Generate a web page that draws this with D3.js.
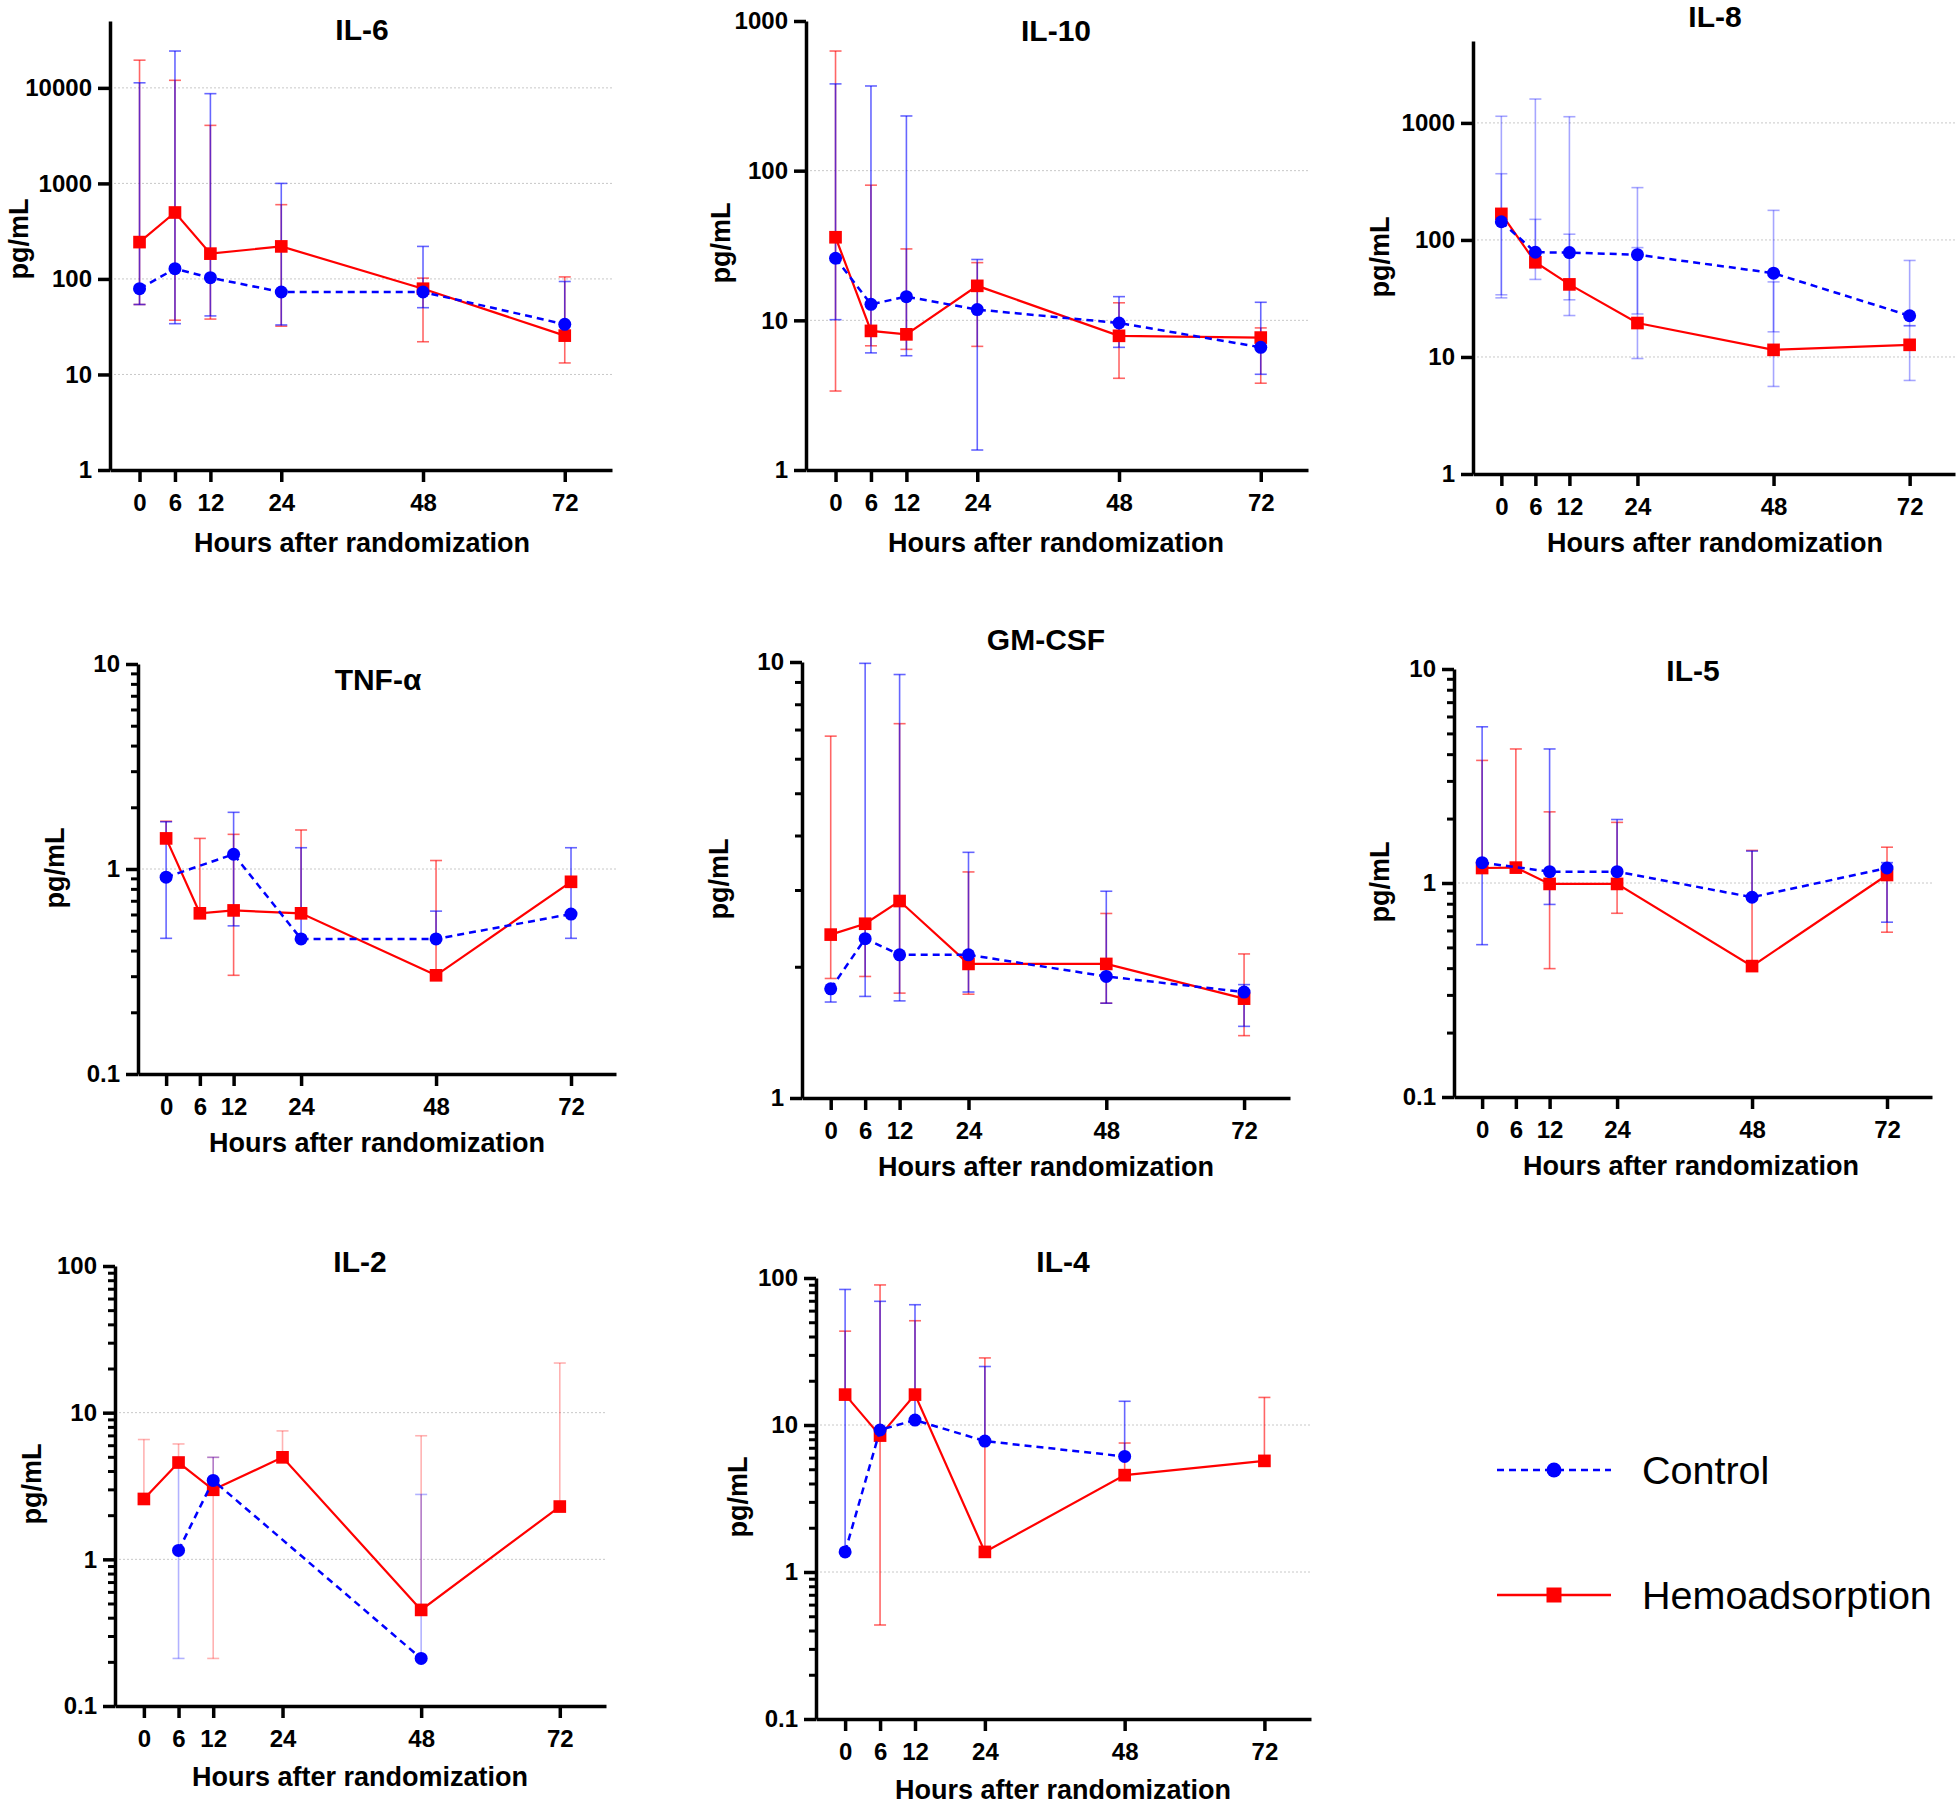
<!DOCTYPE html>
<html>
<head>
<meta charset="utf-8">
<script src="https://cdn.jsdelivr.net/npm/d3@7"></script>
<style>
  body { margin: 0; background: #fff; }
  svg text { font-family: "Liberation Sans", Arial, sans-serif; fill: #000; }
</style>
</head>
<body>
<svg id="chart" width="1960" height="1804"></svg>
<script>
// time points (hours after randomization)
const hours = [0, 6, 12, 24, 48, 72];

// each point: [median, lower, upper] in pg/mL; null = not shown
const il6Control = [[79, 54, 11300], [128, 34, 24300], [103, 41, 8700], [73, 33, 1000], [73, 50, 219], [33.5, 26.6, 94]];
const il6Hemo = [[243, 54, 19500], [496, 37, 12000], [184, 38, 4050], [219, 32, 599], [79, 22, 102], [25.5, 13.2, 105]];

const il10Control = [[26, 10.1, 380], [12.8, 6.06, 368], [14.4, 5.8, 232], [11.8, 1.36, 25.5], [9.6, 6.6, 14.4], [6.6, 4.36, 13.2]];
const il10Hemo = [[35.9, 3.37, 630], [8.5, 6.76, 80], [8.06, 6.4, 30], [17, 6.7, 24.3], [7.88, 4.1, 13.1], [7.67, 3.8, 8.9]];

const il8Control = [[143, 32, 1140], [78.5, 46, 1600], [78, 22.6, 1130], [74.8, 23.3, 280], [52, 16.4, 179], [22.5, 18.5, 66.8]];
const il8Hemo = [[167, 34, 368], [64.5, 58, 150], [41.7, 30.8, 112], [19.5, 9.7, 86], [11.5, 5.6, 43.8], [12.7, 6.3, 18.5]];

const tnfControl = [[0.912, 0.459, 1.70], null, [1.18, 0.528, 1.89], [0.456, null, 1.27], [0.456, null, 0.623], [0.603, 0.459, 1.27]];
const tnfHemo = [[1.41, null, 1.71], [0.608, null, 1.41], [0.628, 0.303, 1.476], [0.608, null, 1.55], [0.303, null, 1.1], [0.866, null, null]];

const gmControl = [[1.78, 1.66, null], [2.32, 1.71, 9.93], [2.13, 1.67, 9.36], [2.13, 1.75, 3.66], [1.90, 1.65, 2.98], [1.75, 1.46, 1.82]];
const gmHemo = [[2.37, 1.88, 6.76], [2.51, 1.90, null], [2.83, 1.74, 7.22], [2.03, 1.73, 3.30], [2.03, 1.65, 2.65], [1.69, 1.39, 2.14]];

const il5Control = [[1.245, 0.515, 5.37], null, [1.13, 0.794, 4.23], [1.13, null, 1.98], [0.858, null, 1.41], [1.175, 0.656, 1.245]];
const il5Hemo = [[1.175, null, 3.74], [1.18, null, 4.23], [0.99, 0.398, 2.15], [0.99, 0.722, 1.92], [0.409, null, 1.42], [1.09, 0.589, 1.47]];

const il2Control = [null, [1.15, 0.211, 4.96], [3.45, null, 4.96], null, [0.211, null, 2.77], null];
const il2Hemo = [[2.58, null, 6.56], [4.57, null, 6.12], [2.98, 0.211, 4.96], [4.96, null, 7.51], [0.452, null, 6.96], [2.29, null, 21.8]];

const il4Control = [[1.37, null, 83.6], [9.25, null, 69.4], [10.8, null, 65.8], [7.77, null, 25], [6.11, null, 14.5], null];
const il4Hemo = [[16.1, null, 43.5], [8.47, 0.436, 89.7], [16.1, null, 51.2], [1.37, null, 28.6], [4.56, null, 7.54], [5.7, null, 15.4]];

const seriesNames = ["Control", "Hemoadsorption"];

// panel layout (pixel boxes + axis extents)
const panels = [
  {title: "IL-6", control: il6Control, hemo: il6Hemo, left: 110, right: 612, top: 21, bottom: 470, yMin: 1, yMax: Math.pow(10, 4.7), minor: false,
   tpos: [362, 29], ypos: [19, 239], xpos: [362, 543]},
  {title: "IL-10", control: il10Control, hemo: il10Hemo, left: 806, right: 1308, top: 21, bottom: 470, yMin: 1, yMax: 1000, minor: false,
   tpos: [1056, 30], ypos: [721, 243], xpos: [1056, 543]},
  {title: "IL-8", control: il8Control, hemo: il8Hemo, left: 1473, right: 1955, top: 41, bottom: 474, yMin: 1, yMax: Math.pow(10, 3.7), minor: false,
   tpos: [1715, 16], ypos: [1380, 257], xpos: [1715, 543], errAlpha: 0.35, hemoErrBlue: true},
  {title: "TNF-α", control: tnfControl, hemo: tnfHemo, left: 138, right: 616, top: 664, bottom: 1074, yMin: 0.1, yMax: 10, minor: true,
   tpos: [378, 679], ypos: [55, 868], xpos: [377, 1143]},
  {title: "GM-CSF", control: gmControl, hemo: gmHemo, left: 802, right: 1290, top: 662, bottom: 1098, yMin: 1, yMax: 10, minor: true,
   tpos: [1046, 639], ypos: [719, 879], xpos: [1046, 1167]},
  {title: "IL-5", control: il5Control, hemo: il5Hemo, left: 1454, right: 1932, top: 669, bottom: 1097, yMin: 0.1, yMax: 10, minor: true,
   tpos: [1693, 670], ypos: [1380, 882], xpos: [1691, 1166]},
  {title: "IL-2", control: il2Control, hemo: il2Hemo, left: 115, right: 606, top: 1266, bottom: 1706, yMin: 0.1, yMax: 100, minor: true,
   tpos: [360, 1261], ypos: [32, 1484], xpos: [360, 1777], errAlpha: 0.3},
  {title: "IL-4", control: il4Control, hemo: il4Hemo, left: 816, right: 1311, top: 1278, bottom: 1719, yMin: 0.1, yMax: 100, minor: true,
   tpos: [1063, 1261], ypos: [738, 1497], xpos: [1063, 1790]}
];

const BLUE = "#0000ff", RED = "#ff0000";
const svg = d3.select("#chart");

panels.forEach(function (p) {
  const g = svg.append("g");
  const x = d3.scaleLinear().domain([-5, 80]).range([p.left, p.right]);
  const y = d3.scaleLog().domain([p.yMin, p.yMax]).range([p.bottom, p.top]);

  const lo = Math.round(Math.log10(p.yMin)), hi = Math.floor(Math.log10(p.yMax) + 1e-9);
  const majors = d3.range(lo, hi + 1).map(e => Math.pow(10, e));
  const minors = [];
  if (p.minor) {
    for (let e = lo; e < hi; e++) for (let k = 2; k <= 9; k++) minors.push(k * Math.pow(10, e));
  }

  // dotted gridlines at inner decades
  g.selectAll(".grid").data(majors.filter(v => v > p.yMin * 1.001 && v < p.yMax * 0.999)).enter()
    .append("line")
    .attr("x1", p.left).attr("x2", p.right)
    .attr("y1", d => y(d)).attr("y2", d => y(d))
    .attr("stroke", "#c8c8c8").attr("stroke-width", 1).attr("stroke-dasharray", "2,2");

  // x axis
  const xa = g.append("g").attr("transform", `translate(0,${p.bottom})`)
    .call(d3.axisBottom(x).tickValues(hours).tickSize(12).tickPadding(12).tickSizeOuter(0));
  // y axis
  const ya = g.append("g").attr("transform", `translate(${p.left},0)`)
    .call(d3.axisLeft(y).tickValues(majors).tickFormat(d3.format("~g")).tickSize(12).tickPadding(6).tickSizeOuter(0));
  if (minors.length) {
    g.append("g").attr("transform", `translate(${p.left},0)`)
      .call(d3.axisLeft(y).tickValues(minors).tickFormat("").tickSize(7).tickSizeOuter(0))
      .call(a => a.select(".domain").remove())
      .selectAll("line").attr("stroke-width", 3);
  }
  [xa, ya].forEach(a => {
    a.select(".domain").attr("stroke", "#000").attr("stroke-width", 3.5);
    a.selectAll(".tick line").attr("stroke", "#000").attr("stroke-width", 3.5);
    a.selectAll("text").attr("font-size", 24).attr("font-weight", "bold").attr("fill", "#000");
  });

  // titles and axis labels
  g.append("text").attr("x", p.tpos[0]).attr("y", p.tpos[1]).attr("text-anchor", "middle")
    .attr("dominant-baseline", "central").attr("font-size", 30).attr("font-weight", "bold").text(p.title);
  g.append("text").attr("transform", `translate(${p.ypos[0]},${p.ypos[1]}) rotate(-90)`)
    .attr("text-anchor", "middle").attr("dominant-baseline", "central")
    .attr("font-size", 27).attr("font-weight", "bold").text("pg/mL");
  g.append("text").attr("x", p.xpos[0]).attr("y", p.xpos[1]).attr("text-anchor", "middle")
    .attr("dominant-baseline", "central").attr("font-size", 27).attr("font-weight", "bold")
    .text("Hours after randomization");

  const alpha = p.errAlpha || 0.6;
  const toPts = arr => hours.map((h, i) => arr[i] ? {h: h, v: arr[i][0], lo: arr[i][1], hi: arr[i][2]} : null).filter(d => d);
  const ctrl = toPts(p.control), hemo = toPts(p.hemo);

  function errorBars(pts, color) {
    const eg = g.append("g").attr("stroke", color).attr("stroke-width", 1.6).attr("stroke-opacity", alpha);
    pts.forEach(d => {
      const y1 = y(d.hi != null ? d.hi : d.v), y2 = y(d.lo != null ? d.lo : d.v);
      eg.append("line").attr("x1", x(d.h)).attr("x2", x(d.h)).attr("y1", y1).attr("y2", y2);
      [d.hi, d.lo].forEach(c => {
        if (c != null) eg.append("line").attr("x1", x(d.h) - 6).attr("x2", x(d.h) + 6).attr("y1", y(c)).attr("y2", y(c));
      });
    });
  }
  errorBars(hemo, p.hemoErrBlue ? BLUE : RED);
  errorBars(ctrl, BLUE);

  const line = d3.line().x(d => x(d.h)).y(d => y(d.v));
  g.append("path").datum(hemo).attr("d", line).attr("fill", "none").attr("stroke", RED).attr("stroke-width", 2.2);
  g.selectAll(".sq").data(hemo).enter().append("path")
    .attr("transform", d => `translate(${x(d.h)},${y(d.v)})`)
    .attr("d", d3.symbol(d3.symbolSquare, 160)).attr("fill", RED);
  g.append("path").datum(ctrl).attr("d", line).attr("fill", "none").attr("stroke", BLUE)
    .attr("stroke-width", 2.5).attr("stroke-dasharray", "7,5");
  g.selectAll(".ci").data(ctrl).enter().append("circle")
    .attr("cx", d => x(d.h)).attr("cy", d => y(d.v)).attr("r", 6.5).attr("fill", BLUE);
});

// legend
const leg = svg.append("g");
const legItems = [
  {name: seriesNames[0], color: BLUE, dash: "7,5", shape: "circle", y: 1470},
  {name: seriesNames[1], color: RED, dash: null, shape: "square", y: 1595}
];
legItems.forEach(it => {
  leg.append("line").attr("x1", 1497).attr("x2", 1611).attr("y1", it.y).attr("y2", it.y)
    .attr("stroke", it.color).attr("stroke-width", 2.5).attr("stroke-dasharray", it.dash);
  if (it.shape === "circle") {
    leg.append("circle").attr("cx", 1554).attr("cy", it.y).attr("r", 7.5).attr("fill", it.color);
  } else {
    leg.append("path").attr("transform", `translate(1554,${it.y})`)
      .attr("d", d3.symbol(d3.symbolSquare, 225)).attr("fill", it.color);
  }
  leg.append("text").attr("x", 1642).attr("y", it.y).attr("dominant-baseline", "central")
    .attr("font-size", 39.5).text(it.name);
});
</script>
</body>
</html>
